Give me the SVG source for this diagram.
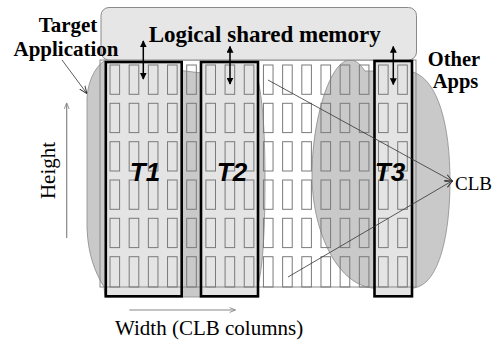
<svg xmlns="http://www.w3.org/2000/svg" xmlns:xlink="http://www.w3.org/1999/xlink" width="498" height="341" viewBox="0 0 498 341">
<style>
.cell{fill:none;stroke:#7a7a7a;stroke-width:1}
.blob{fill:#c9c9c9;stroke:#8a8a8a;stroke-width:0.8}
.tfill{fill:#e4e4e4;stroke:none}
.tbox{fill:none;stroke:#000;stroke-width:2.6}
.bold{font-family:"Liberation Serif","Times New Roman",serif;font-weight:bold;fill:#000}
.reg{font-family:"Liberation Serif","Times New Roman",serif;fill:#000}
.tl{font-family:"Liberation Sans",Arial,sans-serif;font-weight:bold;font-style:italic;font-size:26px;fill:#000;text-anchor:middle}
.dbl{stroke:#000;stroke-width:1.5;marker-start:url(#ah);marker-end:url(#ah)}
.axis{stroke:#888;stroke-width:1.2;marker-end:url(#gh)}
.ptr{stroke:#333;stroke-width:0.8;fill:none}
</style>
<defs>
<marker id="ah" viewBox="0 0 10 10" refX="9" refY="5" markerWidth="7" markerHeight="7" markerUnits="userSpaceOnUse" orient="auto-start-reverse"><path d="M0,0 L10,5 L0,10 Z" fill="#000"/></marker>
<marker id="gh" viewBox="0 0 10 10" refX="9" refY="5" markerWidth="8" markerHeight="6" markerUnits="userSpaceOnUse" orient="auto"><path d="M0,1 L10,5 L0,9" fill="none" stroke="#888" stroke-width="1.5"/></marker>
<marker id="oh" viewBox="0 0 10 10" refX="9" refY="5" markerWidth="8" markerHeight="8" markerUnits="userSpaceOnUse" orient="auto"><path d="M0,1 L10,5 L0,9" fill="none" stroke="#333" stroke-width="1.2"/></marker>
<g id="col">
<rect class="cell" x="0" y="65" width="9.6" height="29.3"/>
<rect class="cell" x="0" y="103.3" width="9.6" height="29.3"/>
<rect class="cell" x="0" y="141.7" width="9.6" height="29.3"/>
<rect class="cell" x="0" y="180" width="9.6" height="29.3"/>
<rect class="cell" x="0" y="218.3" width="9.6" height="29.3"/>
<rect class="cell" x="0" y="256.7" width="9.6" height="30.3"/>
</g>
</defs>
<rect width="498" height="341" fill="#fff"/>

<g id="fabric">
<rect x="100" y="60" width="316" height="227" fill="#fff"/>
</g>

<g id="target-application">
<path class="blob" d="M104,61 C94,68 87,84 87,100 L87,228 C88,255 95,272 104,287 L105,297 L258,297 L258,285 C262,270 265,240 265,180 C265,125 262,98 258,80 Z"/>
</g>

<g id="other-apps">
<path class="blob" d="M373,71 L365,71 C360,64 356,60 350,60 C330,60 312,120 312,175 C312,228 335,283 372,288 L414,288 C440,284 450,232 450,181 C450,125 438,80 413,72 Z"/>
</g>

<g id="tasks-fill">
<rect class="tfill" x="105.8" y="62" width="75.9" height="234.3"/>
<rect class="tfill" x="201" y="62" width="57" height="234.3"/>
<rect class="tfill" x="374.5" y="61" width="37.5" height="235.3"/>
</g>

<g id="clb-grid">
<rect x="100" y="60" width="316" height="227" fill="none" stroke="#8a8a8a" stroke-width="1"/>
<use xlink:href="#col" x="110"/>
<use xlink:href="#col" x="129.18"/>
<use xlink:href="#col" x="148.36"/>
<use xlink:href="#col" x="167.54"/>
<use xlink:href="#col" x="186.72"/>
<use xlink:href="#col" x="205.9"/>
<use xlink:href="#col" x="225.08"/>
<use xlink:href="#col" x="244.26"/>
<use xlink:href="#col" x="263.44"/>
<use xlink:href="#col" x="282.62"/>
<use xlink:href="#col" x="301.8"/>
<use xlink:href="#col" x="320.98"/>
<use xlink:href="#col" x="340.16"/>
<use xlink:href="#col" x="359.34"/>
<use xlink:href="#col" x="378.52"/>
<use xlink:href="#col" x="397.7"/>
</g>

<g id="memory">
<rect x="101" y="7.5" width="315.5" height="52.5" rx="8" ry="8" fill="#e6e6e6" stroke="#8a8a8a" stroke-width="1"/>
<text class="bold" x="264.7" y="42" font-size="23" text-anchor="middle">Logical shared memory</text>
</g>

<g id="T1">
<rect class="tbox" x="105.8" y="62" width="75.9" height="234.3"/>
<text class="tl" x="145" y="181">T1</text>
</g>
<g id="T2">
<rect class="tbox" x="201" y="62" width="57" height="234.3"/>
<text class="tl" x="232" y="181">T2</text>
</g>
<g id="T3">
<rect class="tbox" x="374.5" y="61" width="37.5" height="235.3"/>
<text class="tl" x="390" y="181">T3</text>
</g>

<g id="connectors">
<line class="dbl" x1="143.3" y1="41" x2="143.3" y2="79"/>
<line class="dbl" x1="230" y1="46.5" x2="230" y2="84"/>
<line class="dbl" x1="393.3" y1="46.5" x2="393.3" y2="84.5"/>
<line class="axis" x1="66.7" y1="238" x2="66.7" y2="103.5"/>
<line class="axis" x1="129.3" y1="310" x2="235" y2="310"/>
<line class="ptr" x1="62" y1="60" x2="86.5" y2="93" marker-end="url(#oh)"/>
<line class="ptr" x1="268" y1="80" x2="452" y2="181" marker-end="url(#oh)"/>
<line class="ptr" x1="288" y1="277" x2="452" y2="181" marker-end="url(#oh)"/>
</g>

<g id="labels">
<text class="bold" x="68" y="32" font-size="21" text-anchor="middle">Target</text>
<text class="bold" x="66" y="56" font-size="21" text-anchor="middle">Application</text>
<text class="bold" x="454" y="66" font-size="20.5" text-anchor="middle">Other</text>
<text class="bold" x="455.5" y="88" font-size="20.5" text-anchor="middle">Apps</text>
<text class="reg" transform="translate(55,170.5) rotate(-90)" font-size="21" text-anchor="middle">Height</text>
<text class="reg" x="115" y="335" font-size="21">Width (CLB columns)</text>
<text class="reg" x="455" y="190" font-size="19">CLB</text>
</g>
</svg>
